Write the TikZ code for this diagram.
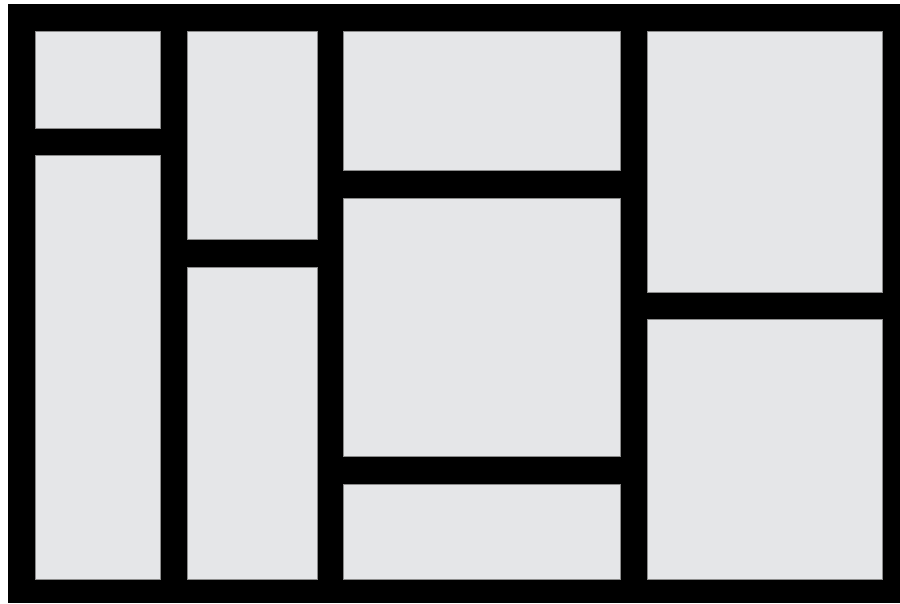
\documentclass[tikz,border=0pt]{standalone}
\usepackage{tikz}
\definecolor{panelGray}{RGB}{229,230,232}
\begin{document}
\begin{tikzpicture}[
    x=0.02cm,y=-0.02cm,
    frameBk/.style={fill=black},
    panelBk/.style={fill=panelGray,draw=black!45,line width=0.2pt},
]
\useasboundingbox (0,0) rectangle (900,603);
\fill[frameBk] (8,4) rectangle (900,603);
% Column 1
\draw[panelBk] (35,31) rectangle (160,128);
\draw[panelBk] (35,155) rectangle (160,579);
% Column 2
\draw[panelBk] (187,31) rectangle (317,239);
\draw[panelBk] (187,267) rectangle (317,579);
% Column 3
\draw[panelBk] (343,31) rectangle (620,170);
\draw[panelBk] (343,198) rectangle (620,456);
\draw[panelBk] (343,484) rectangle (620,579);
% Column 4
\draw[panelBk] (647,31) rectangle (882,292);
\draw[panelBk] (647,319) rectangle (882,579);
\end{tikzpicture}
\end{document}
